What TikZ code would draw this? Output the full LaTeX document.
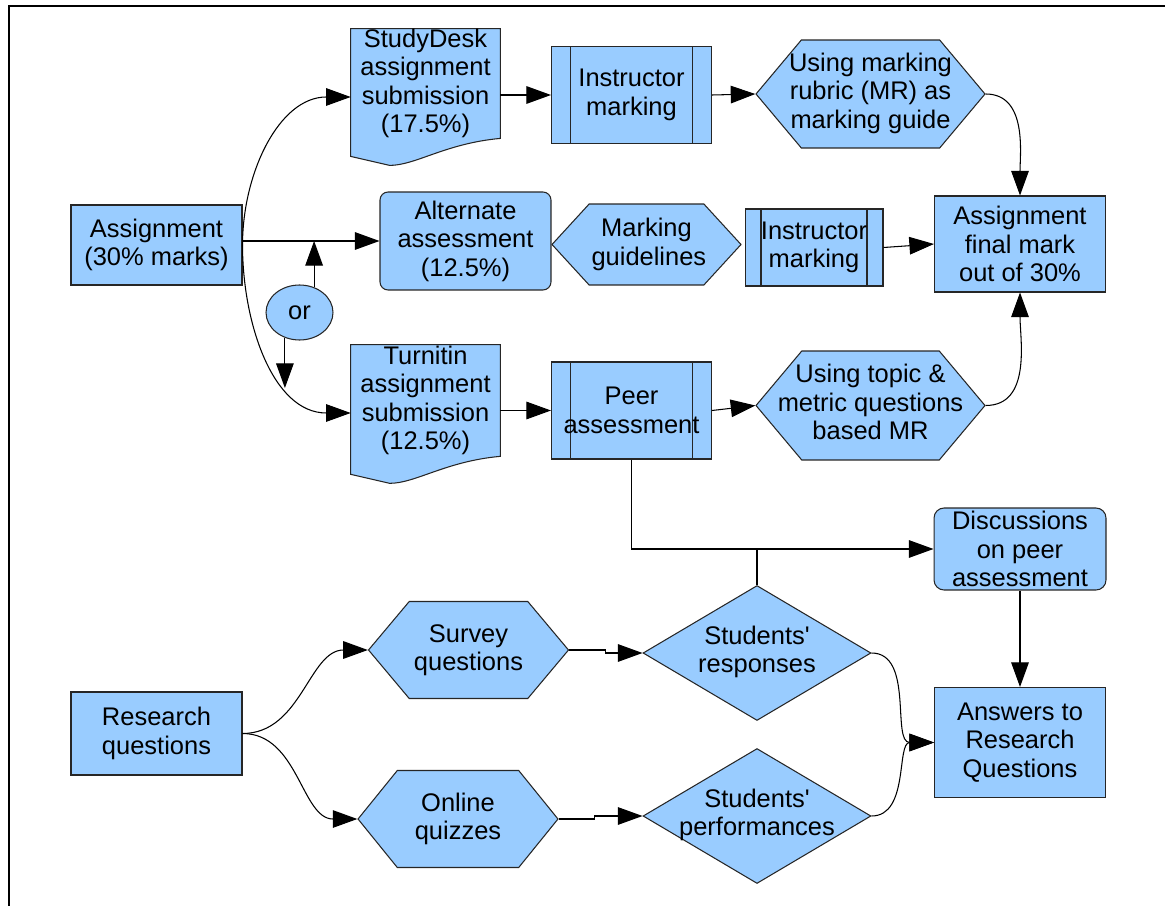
\documentclass[tikz,border=0pt]{standalone}
\usepackage{fontspec}
\setmainfont{Liberation Sans}
\usetikzlibrary{arrows.meta, shapes.geometric, shapes.symbols, backgrounds}

\definecolor{boxblue}{HTML}{99CCFF}

% lines of text that may stick out of a narrow box
\newcommand{\narrowtext}[2]{\makebox[#1]{\begin{tabular}{@{}c@{}}#2\end{tabular}}}

\tikzset{
  blk/.style={draw=black!85, fill=boxblue, line width=0.6pt, inner sep=0pt, align=center},
  procbox/.style={blk, path picture={
      \draw[line width=0.6pt]
        ([xshift=#1]path picture bounding box.north west) -- ([xshift=#1]path picture bounding box.south west)
        ([xshift=-#1]path picture bounding box.north east) -- ([xshift=-#1]path picture bounding box.south east);}},
  procbox/.default=0.38cm,
  hexbox/.style={blk, signal, signal to=west and east, signal pointer angle=#1},
  hexbox/.default=100,
  decbox/.style={blk, diamond, aspect=1.69, minimum width=4.56cm, minimum height=2.7cm},
  docbox/.style={inner sep=0pt, align=center},
  arr/.style={-{Triangle[length=14pt,width=10pt]}, line width=0.6pt}
}

\begin{document}
\begin{tikzpicture}[x=0.02cm, y=-0.02cm, font=\fontsize{14.5}{16.2}\selectfont]
  \useasboundingbox (0,0) rectangle (1165,905);
  \draw[line width=1.1pt] (9,6) rectangle (1180,920);

  % top part: assignment marking
  \node[blk, minimum width=3.42cm, minimum height=1.6cm] (assign) at (156.5,245) {Assignment\\(30\% marks)};
  \node[blk, ellipse, minimum width=1.34cm, minimum height=1.1cm] (orNode) at (299.5,312.5) {or};
  \node[docbox, minimum width=2.98cm, minimum height=2.18cm] (study) at (425.5,83.5) {StudyDesk\\assignment\\submission\\(17.5\%)};
  \node[docbox, minimum width=2.98cm, minimum height=2.22cm] (turn) at (425.5,400.5) {Turnitin\\assignment\\submission\\(12.5\%)};
  \node[blk, rounded corners=0.16cm, minimum width=3.42cm, minimum height=1.96cm] (alt) at (465.5,241) {Alternate\\assessment\\(12.5\%)};
  \node[procbox, minimum width=3.2cm, minimum height=1.94cm] (instrA) at (631.5,95) {Instructor\\marking};
  \node[procbox, minimum width=3.2cm, minimum height=1.94cm] (peer) at (631.5,410.5) {Peer\\assessment};
  \node[hexbox=95, text width=2.2cm, minimum width=3.78cm, minimum height=1.62cm] (guide) at (646.5,244.5) {Marking\\guidelines};
  \node[procbox=0.32cm, minimum width=2.76cm, minimum height=1.54cm] (instrB) at (814,247.5) {Instructor\\marking};
  \node[hexbox, minimum width=4.58cm, minimum height=2.16cm] (rubric) at (870.5,94) {\narrowtext{2.6cm}{Using marking\\rubric (MR) as\\marking guide}};
  \node[hexbox, minimum width=4.58cm, minimum height=2.18cm] (topic) at (870.5,405.5) {\narrowtext{2.6cm}{Using topic \&\\metric questions\\based MR}};
  \node[blk, minimum width=3.42cm, minimum height=1.92cm] (final) at (1020,244) {Assignment\\final mark\\out of 30\%};

  \begin{scope}[on background layer]
    \foreach \d in {study,turn}
      \filldraw[blk] (\d.north west) -- (\d.north east) -- (\d.south east)
        .. controls ([xshift=-1.1cm,yshift=-0.1cm]\d.south east) and ([xshift=1.3cm,yshift=-0.54cm]\d.south west)
        .. ([xshift=0.78cm,yshift=-0.54cm]\d.south west) -- ([yshift=-0.36cm]\d.south west) -- cycle;
  \end{scope}

  % bottom part: research questions
  \node[blk, minimum width=3.42cm, minimum height=1.66cm] (research) at (156.5,733.5) {Research\\questions};
  \node[hexbox, text width=2.2cm, minimum width=4cm, minimum height=1.94cm] (survey) at (468.5,650) {Survey\\questions};
  \node[hexbox=102, text width=2.2cm, minimum width=4cm, minimum height=1.94cm] (quiz) at (458,819) {Online\\quizzes};
  \node[decbox] (resp) at (757,653) {\narrowtext{1.6cm}{Students\textquotesingle\\responses}};
  \node[decbox] (perf) at (757,816) {\narrowtext{1.6cm}{Students\textquotesingle\\performances}};
  \node[blk, rounded corners=0.2cm, minimum width=3.44cm, minimum height=1.64cm] (disc) at (1020,549) {Discussions\\on peer\\assessment};
  \node[blk, minimum width=3.42cm, minimum height=2.2cm] (answ) at (1020,742.5) {Answers to\\Research\\Questions};

  \coordinate (orDown) at (287,388);

  \draw[arr] (assign.east) to[out=90,in=180] ([yshift=-0.27cm]study.west);
  \draw[arr] (assign.east |- alt.west) -- (alt.west);
  \draw[arr] (assign.east) to[out=-90,in=180] ([yshift=-0.25cm]turn.west);
  \draw[arr] (orNode.60) -- (orNode.60 |- alt.west);
  \draw[arr] (orNode.240) -- (orNode.240 |- orDown);
  \draw[arr] (study.east |- instrA.west) -- (instrA.west);
  \draw[arr] (instrA.east) -- (rubric.west);
  \draw[arr] (rubric.east) to[out=0,in=90] (final.north);
  \draw[arr] (instrB.east) -- (final.west);
  \draw[arr] (turn.east |- peer.west) -- (peer.west);
  \draw[arr] (peer.east) -- (topic.west);
  \draw[arr] (topic.east) to[out=0,in=-90] (final.south);
  \draw[arr] (peer.south) |- (disc.west);
  \draw[line width=0.6pt] (resp.north) -- (resp.north |- disc.west);
  \draw[arr] (disc.south) -- (answ.north);

  \draw[arr] (research.east) to[out=0,in=180] (survey.west);
  \draw[arr] (research.east) to[out=0,in=180] (quiz.west);
  \draw[arr] (survey.east) -- ++(36,0) |- (resp.west);
  \draw[arr] (quiz.east) -- ++(36,0) |- (perf.west);
  \draw[arr] (resp.east) to[out=0,in=180] (answ.west);
  \draw[arr] (perf.east) to[out=0,in=180] (answ.west);
\end{tikzpicture}
\end{document}
